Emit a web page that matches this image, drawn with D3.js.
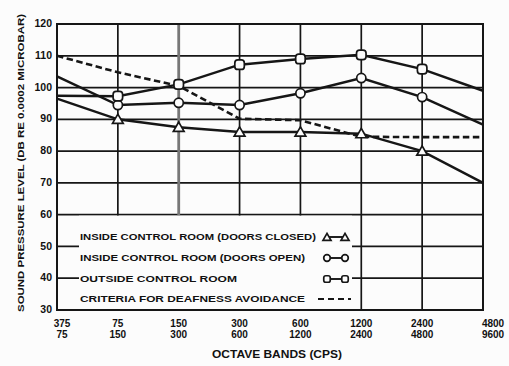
<!DOCTYPE html>
<html>
<head>
<meta charset="utf-8">
<script src="https://cdn.jsdelivr.net/npm/d3@7"></script>
<style>
  html, body { margin: 0; padding: 0; background: #fcfcfc; }
  svg { display: block; }
  text { font-family: "Liberation Sans", Arial, sans-serif; font-weight: bold; fill: #111; }
</style>
</head>
<body>
<svg id="chart" width="509" height="366"></svg>
<script>
// Octave bands (cps): lower and upper edge of each band
const bandLow  = ["375", "75", "150", "300", "600", "1200", "2400", "4800"];
const bandHigh = ["75", "150", "300", "600", "1200", "2400", "4800", "9600"];
const yTicks = [30, 40, 50, 60, 70, 80, 90, 100, 110, 120];

// Sound pressure level, dB re 0.0002 microbar
const doorsClosed = [96.5, 90, 87.5, 86, 86, 85.5, 80, 70];
const doorsOpen   = [103.5, 94.5, 95.2, 94.5, 98.2, 103, 97, 88.3];
const outside     = [97.4, 97.3, 101, 107.2, 109, 110.3, 105.8, 99];
const criteria    = [110, 104.8, 100.5, 90.2, 89.7, 84.5, 84.4, 84.4];

const legendLabels = [
  "INSIDE CONTROL ROOM (DOORS CLOSED)",
  "INSIDE CONTROL ROOM (DOORS OPEN)",
  "OUTSIDE CONTROL ROOM",
  "CRITERIA FOR DEAFNESS AVOIDANCE"
];

const svg = d3.select("#chart");
const margin = { top: 24, right: 26, bottom: 56, left: 57 };
const W = 509, H = 366;
const x = d3.scalePoint().domain(d3.range(bandLow.length)).range([margin.left, W - margin.right]);
const y = d3.scaleLinear().domain([30, 120]).range([H - margin.bottom, margin.top]);
const ink = "#161616";

// grid
const grid = svg.append("g");
grid.selectAll("line.h").data(yTicks).join("line")
  .attr("x1", x(0)).attr("x2", x(bandLow.length - 1))
  .attr("y1", d => y(d)).attr("y2", d => y(d))
  .attr("stroke", ink).attr("stroke-width", 1.7);
grid.selectAll("line.v").data(d3.range(bandLow.length)).join("line")
  .attr("x1", d => x(d)).attr("x2", d => x(d))
  .attr("y1", y(120)).attr("y2", y(30))
  .attr("stroke", d => d === 2 ? "#777" : ink)
  .attr("stroke-width", d => d === 2 ? 2.8 : 1.7);

// legend panel blanks the lower grid
const legendTop = y(60), legendBottom = y(30);
svg.append("rect")
  .attr("x", 79).attr("y", legendTop + 1)
  .attr("width", 273).attr("height", legendBottom - legendTop - 2)
  .attr("fill", "#fcfcfc");

// frame
svg.append("rect")
  .attr("x", x(0)).attr("y", y(120))
  .attr("width", x(bandLow.length - 1) - x(0)).attr("height", y(30) - y(120))
  .attr("fill", "none").attr("stroke", ink).attr("stroke-width", 2);

// series lines
const line = d3.line().x((d, i) => x(i)).y(d => y(d));
svg.append("path").datum(criteria).attr("d", line)
  .attr("fill", "none").attr("stroke", ink).attr("stroke-width", 2.6)
  .attr("stroke-dasharray", "6.5,3.5");
[doorsClosed, doorsOpen, outside].forEach(s => {
  svg.append("path").datum(s).attr("d", line)
    .attr("fill", "none").attr("stroke", ink).attr("stroke-width", 2.5);
});

// markers at interior bands
const inner = d3.range(1, bandLow.length - 1);
function drawTri(g, cx, cy, size) {
  g.append("path").attr("d", d3.symbol().type(d3.symbolTriangle).size(size)())
    .attr("transform", `translate(${cx},${cy + 1})`)
    .attr("fill", "#fcfcfc").attr("stroke", ink).attr("stroke-width", 1.7);
}
function drawCircle(g, cx, cy, r) {
  g.append("circle").attr("cx", cx).attr("cy", cy).attr("r", r)
    .attr("fill", "#fcfcfc").attr("stroke", ink).attr("stroke-width", 1.7);
}
function drawSquare(g, cx, cy, s) {
  g.append("rect").attr("x", cx - s / 2).attr("y", cy - s / 2)
    .attr("width", s).attr("height", s).attr("rx", s * 0.32)
    .attr("fill", "#fcfcfc").attr("stroke", ink).attr("stroke-width", 1.7);
}
const marks = svg.append("g");
inner.forEach(i => {
  drawTri(marks, x(i), y(doorsClosed[i]), 50);
  drawCircle(marks, x(i), y(doorsOpen[i]), 4.6);
  drawSquare(marks, x(i), y(outside[i]), 9.5);
});

// y tick labels
svg.append("g").selectAll("text").data(yTicks).join("text")
  .attr("x", 52).attr("y", d => y(d)).attr("dy", "0.3em")
  .attr("text-anchor", "end").attr("font-size", 10.5)
  .text(d => d);

// x tick labels (two lines per band)
const xl = svg.append("g");
const shift = i => i === 0 ? 5 : (i === bandLow.length - 1 ? 10 : 0);
xl.selectAll("text.lo").data(bandLow).join("text")
  .attr("x", (d, i) => x(i) + shift(i)).attr("y", 327)
  .attr("text-anchor", "middle").attr("font-size", 10).text(d => d);
xl.selectAll("text.hi").data(bandHigh).join("text")
  .attr("x", (d, i) => x(i) + shift(i)).attr("y", 338)
  .attr("text-anchor", "middle").attr("font-size", 10).text(d => d);

// axis titles
svg.append("text")
  .attr("x", 277).attr("y", 358).attr("text-anchor", "middle")
  .attr("font-size", 10).attr("textLength", 130).attr("lengthAdjust", "spacingAndGlyphs")
  .text("OCTAVE BANDS (CPS)");
svg.append("text")
  .attr("transform", "translate(24,163) rotate(-90)")
  .attr("text-anchor", "middle").attr("font-size", 9.5)
  .attr("textLength", 298).attr("lengthAdjust", "spacingAndGlyphs")
  .text("SOUND PRESSURE LEVEL (DB RE 0.0002 MICROBAR)");

// legend
const rowsY = [237, 258, 279, 299];
const textLens = [236, 225, 157, 225];
const lg = svg.append("g");
legendLabels.forEach((t, i) => {
  lg.append("text").attr("x", 80).attr("y", rowsY[i]).attr("dy", "0.35em")
    .attr("font-size", 8.5).attr("textLength", textLens[i]).attr("lengthAdjust", "spacingAndGlyphs")
    .text(t);
});
const lx1 = 327, lx2 = 345;
[0, 1, 2].forEach(i => {
  lg.append("line").attr("x1", lx1).attr("x2", lx2).attr("y1", rowsY[i]).attr("y2", rowsY[i])
    .attr("stroke", ink).attr("stroke-width", 1.9);
});
drawTri(lg, lx1, rowsY[0], 28); drawTri(lg, lx2, rowsY[0], 28);
drawCircle(lg, lx1, rowsY[1], 3.3); drawCircle(lg, lx2, rowsY[1], 3.3);
drawSquare(lg, lx1, rowsY[2], 6.5); drawSquare(lg, lx2, rowsY[2], 6.5);
lg.append("line").attr("x1", 318).attr("x2", 351).attr("y1", rowsY[3]).attr("y2", rowsY[3])
  .attr("stroke", ink).attr("stroke-width", 2).attr("stroke-dasharray", "6,4");
</script>
</body>
</html>
